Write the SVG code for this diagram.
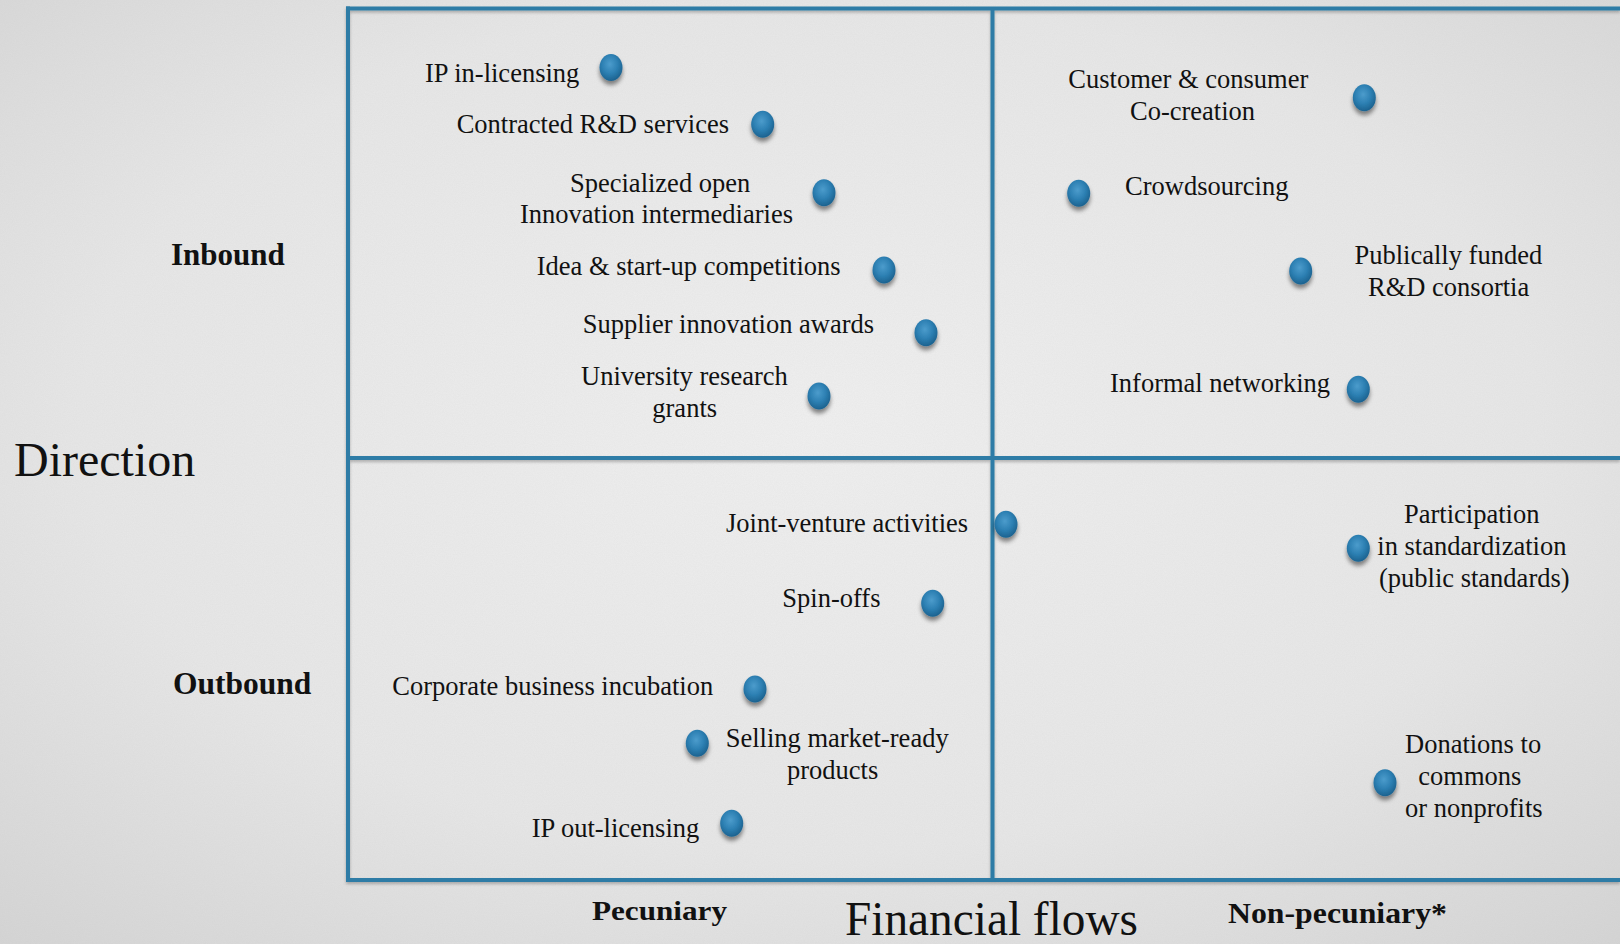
<svg xmlns="http://www.w3.org/2000/svg" width="1620" height="944" viewBox="0 0 1620 944">
<defs>
<radialGradient id="bg" cx="50%" cy="45%" r="75%">
<stop offset="0" stop-color="#f0f0f0"/>
<stop offset="0.6" stop-color="#e7e7e7"/>
<stop offset="1" stop-color="#d4d4d4"/>
</radialGradient>
<filter id="paper" x="0" y="0" width="100%" height="100%">
<feTurbulence type="fractalNoise" baseFrequency="0.9" numOctaves="2" seed="3" result="n"/>
<feColorMatrix type="matrix" values="0 0 0 0 0.5  0 0 0 0 0.5  0 0 0 0 0.5  0 0 0 0.14 0"/>
</filter>
<radialGradient id="dotGrad" cx="45%" cy="38%" r="62%">
<stop offset="0" stop-color="#4c9ccc"/>
<stop offset="0.55" stop-color="#2d80b3"/>
<stop offset="1" stop-color="#1c628f"/>
</radialGradient>
<filter id="dotShadow" x="-50%" y="-50%" width="200%" height="200%">
<feDropShadow dx="0" dy="4" stdDeviation="2" flood-color="#000" flood-opacity="0.45"/>
</filter>
<filter id="lineShadow" x="-5%" y="-5%" width="110%" height="110%">
<feDropShadow dx="0" dy="2" stdDeviation="1.5" flood-color="#000" flood-opacity="0.25"/>
</filter>
</defs>
<style>
.lbl{font-family:"Liberation Serif","Times New Roman",serif;font-size:26.5px;fill:#111;}
.axis{font-family:"Liberation Serif","Times New Roman",serif;font-weight:bold;fill:#111;}
.big{font-family:"Liberation Serif","Times New Roman",serif;font-size:48px;fill:#111;}
.dot{fill:url(#dotGrad);filter:url(#dotShadow);}
.grid{stroke:#2f7ca6;stroke-width:4;fill:none;}
</style>
<rect x="0" y="0" width="1620" height="944" fill="url(#bg)"/>
<rect x="0" y="0" width="1620" height="944" filter="url(#paper)"/>

<g id="grid" filter="url(#lineShadow)">
<line class="grid" x1="346" y1="8.5" x2="1620" y2="8.5"/>
<line class="grid" x1="348" y1="6.5" x2="348" y2="882"/>
<line class="grid" x1="346" y1="880" x2="1620" y2="880"/>
<line class="grid" x1="348" y1="458" x2="1620" y2="458"/>
<line class="grid" x1="992.5" y1="8" x2="992.5" y2="880"/>
</g>

<g id="axis-labels">
<text class="big" x="14" y="476">Direction</text>
<text class="axis" x="171" y="265" font-size="31">Inbound</text>
<text class="axis" x="173" y="693.5" font-size="31.5">Outbound</text>
<text class="axis" x="592" y="920" font-size="28" textLength="135" lengthAdjust="spacingAndGlyphs">Pecuniary</text>
<text class="big" x="845" y="935" font-size="46" textLength="293" lengthAdjust="spacingAndGlyphs">Financial flows</text>
<text class="axis" x="1228" y="923" font-size="29" textLength="219" lengthAdjust="spacingAndGlyphs">Non-pecuniary*</text>
</g>

<g id="n-ip-in">
<text class="lbl" x="425" y="81.7">IP in-licensing</text>
<ellipse class="dot" cx="611" cy="67.5" rx="11.5" ry="13.5"/>
</g>
<g id="n-contracted">
<text class="lbl" x="456.7" y="133.3">Contracted R&amp;D services</text>
<ellipse class="dot" cx="762.7" cy="124.3" rx="11.5" ry="13.5"/>
</g>
<g id="n-specialized">
<text class="lbl" x="570" y="191.7">Specialized open</text>
<text class="lbl" x="520" y="222.7">Innovation intermediaries</text>
<ellipse class="dot" cx="824" cy="192.7" rx="11.5" ry="13.5"/>
</g>
<g id="n-idea">
<text class="lbl" x="536.7" y="275">Idea &amp; start-up competitions</text>
<ellipse class="dot" cx="884" cy="270" rx="11.5" ry="13.5"/>
</g>
<g id="n-supplier">
<text class="lbl" x="582.7" y="332.7">Supplier innovation awards</text>
<ellipse class="dot" cx="926" cy="332.7" rx="11.5" ry="13.5"/>
</g>
<g id="n-university">
<text class="lbl" x="581" y="385">University research</text>
<text class="lbl" x="652.3" y="416.7">grants</text>
<ellipse class="dot" cx="819" cy="396" rx="11.5" ry="13.5"/>
</g>

<g id="n-customer">
<text class="lbl" x="1068.3" y="88.3">Customer &amp; consumer</text>
<text class="lbl" x="1130" y="120">Co-creation</text>
<ellipse class="dot" cx="1364.3" cy="97.7" rx="11.5" ry="13.5"/>
</g>
<g id="n-crowd">
<text class="lbl" x="1125" y="195">Crowdsourcing</text>
<ellipse class="dot" cx="1078.7" cy="193.3" rx="11.5" ry="13.5"/>
</g>
<g id="n-public">
<text class="lbl" x="1354.5" y="264">Publically funded</text>
<text class="lbl" x="1368" y="296">R&amp;D consortia</text>
<ellipse class="dot" cx="1300.7" cy="271" rx="11.5" ry="13.5"/>
</g>
<g id="n-informal">
<text class="lbl" x="1110" y="391.7">Informal networking</text>
<ellipse class="dot" cx="1358.3" cy="389.3" rx="11.5" ry="13.5"/>
</g>

<g id="n-joint">
<text class="lbl" x="726" y="531.7">Joint-venture activities</text>
<ellipse class="dot" cx="1006" cy="524.3" rx="11.5" ry="13.5"/>
</g>
<g id="n-spin">
<text class="lbl" x="782.3" y="606.7">Spin-offs</text>
<ellipse class="dot" cx="932.7" cy="603.3" rx="11.5" ry="13.5"/>
</g>
<g id="n-corporate">
<text class="lbl" x="392.3" y="695">Corporate business incubation</text>
<ellipse class="dot" cx="755" cy="689" rx="11.5" ry="13.5"/>
</g>
<g id="n-selling">
<text class="lbl" x="725.7" y="746.7">Selling market-ready</text>
<text class="lbl" x="787" y="778.7">products</text>
<ellipse class="dot" cx="697.3" cy="743.3" rx="11.5" ry="13.5"/>
</g>
<g id="n-ip-out">
<text class="lbl" x="531.7" y="836.7">IP out-licensing</text>
<ellipse class="dot" cx="731.7" cy="823.3" rx="11.5" ry="13.5"/>
</g>

<g id="n-participation">
<text class="lbl" x="1404" y="522.7">Participation</text>
<text class="lbl" x="1377.3" y="555">in standardization</text>
<text class="lbl" x="1379" y="586.7">(public standards)</text>
<ellipse class="dot" cx="1358.3" cy="548.3" rx="11.5" ry="13.5"/>
</g>
<g id="n-donations">
<text class="lbl" x="1405" y="753.3">Donations to</text>
<text class="lbl" x="1418.3" y="785">commons</text>
<text class="lbl" x="1405" y="816.7">or nonprofits</text>
<ellipse class="dot" cx="1385" cy="782.7" rx="11.5" ry="13.5"/>
</g>
</svg>
